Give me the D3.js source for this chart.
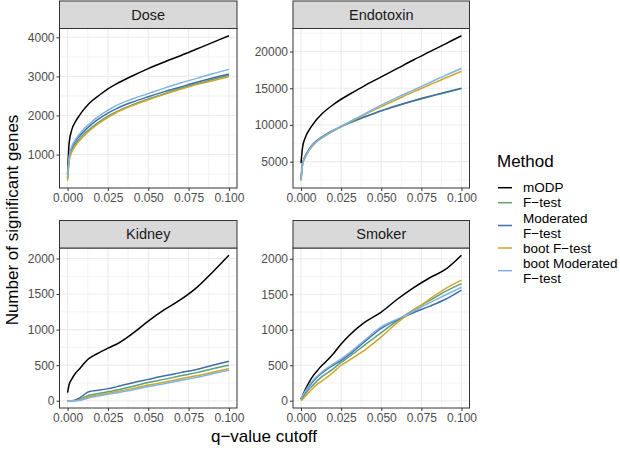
<!DOCTYPE html>
<html><head><meta charset="utf-8">
<script src="https://cdn.jsdelivr.net/npm/d3@7"></script>
<style>body{margin:0;background:#fff}svg{display:block;font-family:"Liberation Sans",Arial,Helvetica,sans-serif}</style>
</head><body><svg id="c" width="620" height="451"></svg>
<script>
const methods = ["mODP", "F\u2212test", "Moderated F\u2212test", "boot F\u2212test", "boot Moderated F\u2212test"];
const legendLines = [["mODP"], ["F\u2212test"], ["Moderated", "F\u2212test"], ["boot F\u2212test"], ["boot Moderated", "F\u2212test"]];
const colors = ["#000000", "#5F9F78", "#3F6FA6", "#D2A52F", "#7DB3E2"];
const panels = ["Dose", "Endotoxin", "Kidney", "Smoker"];
const qs = [0, 0.001, 0.0025, 0.005, 0.0075, 0.01, 0.0125, 0.015, 0.02, 0.025, 0.03, 0.04, 0.05, 0.06, 0.07, 0.08, 0.09, 0.1];
const xTicks = [0, 0.025, 0.05, 0.075, 0.1];
const yTicksDose = [1000, 2000, 3000, 4000];
const yTicksEndo = [5000, 10000, 15000, 20000];
const yTicksCount = [0, 500, 1000, 1500, 2000];

// Dose
const doseMODP = [480, 1300, 1620, 1850, 2010, 2150, 2270, 2370, 2530, 2680, 2800, 3010, 3200, 3370, 3530, 3700, 3870, 4040];
const doseF = [380, 880, 1100, 1280, 1410, 1520, 1610, 1700, 1850, 1980, 2090, 2270, 2420, 2560, 2690, 2810, 2920, 3030];
const doseMod = [400, 930, 1160, 1350, 1480, 1590, 1690, 1780, 1930, 2060, 2170, 2340, 2480, 2610, 2730, 2850, 2960, 3060];
const doseBootF = [330, 830, 1050, 1230, 1360, 1470, 1570, 1660, 1820, 1950, 2070, 2250, 2400, 2540, 2670, 2790, 2890, 2990];
const doseBootMod = [420, 950, 1190, 1390, 1530, 1650, 1750, 1840, 2000, 2130, 2250, 2420, 2560, 2700, 2830, 2950, 3070, 3180];
// Endotoxin
const endoMODP = [4800, 7000, 8200, 9300, 10100, 10800, 11400, 11900, 12750, 13500, 14150, 15400, 16550, 17700, 18850, 19950, 21050, 22150];
const endoF = [2550, 4750, 5650, 6650, 7350, 7850, 8250, 8600, 9200, 9750, 10250, 11100, 11900, 12600, 13250, 13850, 14400, 14950];
const endoMod = [2600, 4800, 5700, 6700, 7400, 7900, 8300, 8650, 9250, 9800, 10300, 11150, 11950, 12650, 13300, 13900, 14450, 15000];
const endoBootF = [2400, 4600, 5500, 6500, 7200, 7750, 8150, 8500, 9150, 9800, 10350, 11450, 12500, 13500, 14500, 15450, 16400, 17300];
const endoBootMod = [2500, 4700, 5600, 6600, 7300, 7800, 8200, 8550, 9200, 9800, 10400, 11550, 12700, 13750, 14750, 15750, 16750, 17700];
// Kidney
const kidMODP = [115, 230, 300, 390, 450, 520, 580, 620, 680, 740, 790, 940, 1120, 1280, 1420, 1590, 1810, 2045];
const kidF = [0, 0, 0, 5, 20, 45, 70, 85, 105, 125, 150, 200, 255, 300, 350, 395, 450, 500];
const kidMod = [0, 0, 0, 10, 40, 80, 120, 135, 150, 170, 195, 250, 300, 350, 395, 440, 500, 555];
const kidBootF = [0, 0, 0, 0, 10, 30, 50, 65, 85, 105, 125, 170, 220, 260, 310, 350, 400, 450];
const kidBootMod = [0, 0, 0, 0, 5, 20, 35, 50, 70, 90, 110, 150, 200, 240, 285, 330, 380, 430];
// Smoker
const smkMODP = [20, 70, 150, 260, 350, 420, 485, 540, 660, 800, 920, 1110, 1250, 1430, 1590, 1730, 1850, 2050];
const smkF = [10, 40, 90, 160, 220, 280, 330, 370, 450, 540, 620, 790, 960, 1130, 1280, 1410, 1540, 1650];
const smkMod = [20, 60, 120, 200, 270, 330, 380, 425, 500, 570, 650, 840, 1020, 1140, 1240, 1330, 1430, 1560];
const smkBootF = [0, 20, 60, 120, 180, 230, 270, 310, 400, 500, 570, 720, 900, 1100, 1270, 1430, 1580, 1700];
const smkBootMod = [30, 70, 130, 220, 290, 345, 395, 440, 515, 590, 670, 860, 1040, 1150, 1260, 1380, 1490, 1600];

const panelData = [
  {name: "Dose", series: [doseMODP, doseF, doseMod, doseBootF, doseBootMod], yTicks: yTicksDose},
  {name: "Endotoxin", series: [endoMODP, endoF, endoMod, endoBootF, endoBootMod], yTicks: yTicksEndo},
  {name: "Kidney", series: [kidMODP, kidF, kidMod, kidBootF, kidBootMod], yTicks: yTicksCount},
  {name: "Smoker", series: [smkMODP, smkF, smkMod, smkBootF, smkBootMod], yTicks: yTicksCount}
];

const svg = d3.select("#c");
const layout = [
  {x0: 59.5, x1: 237, y0: 28.5, y1: 188},
  {x0: 293, x1: 469.5, y0: 28.5, y1: 188},
  {x0: 59.5, x1: 237, y0: 248, y1: 408},
  {x0: 293, x1: 469.5, y0: 248, y1: 408}
];
const stripH = 27.5;
const gridCol = "#EBEBEB";
const axisTextCol = "#4D4D4D";
const frameCol = "#333333";

panelData.forEach((p, i) => {
  const L = layout[i];
  const all = p.series.flat();
  const mn = d3.min(all), mx = d3.max(all), ex = (mx - mn) * 0.05;
  const y = d3.scaleLinear().domain([mn - ex, mx + ex]).range([L.y1, L.y0]);
  const x = d3.scaleLinear().domain([-0.005, 0.105]).range([L.x0, L.x1]);
  const g = svg.append("g");
  g.append("rect").attr("x", L.x0).attr("y", L.y0).attr("width", L.x1 - L.x0).attr("height", L.y1 - L.y0).attr("fill", "#fff");
  const step = p.yTicks[1] - p.yTicks[0];
  const yMinor = d3.range(p.yTicks[0] - step / 2, mx + ex, step).filter(v => v > mn - ex && v < mx + ex);
  const xMinor = d3.range(-0.0125, 0.11, 0.025).filter(v => v > -0.005 && v < 0.105);
  g.selectAll(null).data(yMinor).join("line").attr("x1", L.x0).attr("x2", L.x1).attr("y1", d => y(d)).attr("y2", d => y(d)).attr("stroke", gridCol).attr("stroke-width", 0.6);
  g.selectAll(null).data(xMinor).join("line").attr("y1", L.y0).attr("y2", L.y1).attr("x1", d => x(d)).attr("x2", d => x(d)).attr("stroke", gridCol).attr("stroke-width", 0.6);
  g.selectAll(null).data(p.yTicks).join("line").attr("x1", L.x0).attr("x2", L.x1).attr("y1", d => y(d)).attr("y2", d => y(d)).attr("stroke", gridCol).attr("stroke-width", 1.1);
  g.selectAll(null).data(xTicks).join("line").attr("y1", L.y0).attr("y2", L.y1).attr("x1", d => x(d)).attr("x2", d => x(d)).attr("stroke", gridCol).attr("stroke-width", 1.1);
  const line = d3.line().x((d, j) => x(qs[j])).y(d => y(d)).curve(d3.curveMonotoneX);
  p.series.forEach((s, k) => {
    g.append("path").datum(s).attr("d", line).attr("fill", "none").attr("stroke", colors[k]).attr("stroke-width", 1.5).attr("stroke-linejoin", "round");
  });
  g.append("rect").attr("x", L.x0).attr("y", L.y0).attr("width", L.x1 - L.x0).attr("height", L.y1 - L.y0).attr("fill", "none").attr("stroke", frameCol).attr("stroke-width", 1);
  g.append("rect").attr("x", L.x0).attr("y", L.y0 - stripH).attr("width", L.x1 - L.x0).attr("height", stripH).attr("fill", "#D9D9D9").attr("stroke", frameCol).attr("stroke-width", 1);
  g.append("text").attr("x", (L.x0 + L.x1) / 2).attr("y", L.y0 - stripH / 2).attr("dy", "0.35em").attr("text-anchor", "middle").attr("font-size", 14.5).attr("fill", "#1A1A1A").text(p.name);
  const xa = d3.axisBottom(x).tickValues(xTicks).tickFormat(d3.format(".3f")).tickSize(3).tickPadding(2);
  const ya = d3.axisLeft(y).tickValues(p.yTicks).tickFormat(d3.format("d")).tickSize(3).tickPadding(2);
  const gx = g.append("g").attr("transform", `translate(0,${L.y1})`).call(xa);
  const gy = g.append("g").attr("transform", `translate(${L.x0},0)`).call(ya);
  [gx, gy].forEach(a => {
    a.select(".domain").remove();
    a.selectAll("line").attr("stroke", frameCol);
    a.selectAll("text").attr("fill", axisTextCol).attr("font-size", 12).attr("font-family", null);
  });
});

svg.append("text").attr("x", 264).attr("y", 442).attr("text-anchor", "middle").attr("font-size", 17).attr("fill", "#000").text("q\u2212value cutoff");
svg.append("text").attr("transform", "translate(18,220) rotate(-90)").attr("text-anchor", "middle").attr("font-size", 17).attr("fill", "#000").text("Number of significant genes");

const lg = svg.append("g");
lg.append("text").attr("x", 497).attr("y", 167).attr("font-size", 17).attr("fill", "#000").text("Method");
const keyY = [187.7, 202.7, 225.5, 248, 270.7];
methods.forEach((m, i) => {
  lg.append("line").attr("x1", 498).attr("x2", 512).attr("y1", keyY[i]).attr("y2", keyY[i]).attr("stroke", colors[i]).attr("stroke-width", 1.5);
  const lines = legendLines[i];
  const t = lg.append("text").attr("font-size", 13.5).attr("fill", "#000");
  lines.forEach((l, j) => {
    t.append("tspan").attr("x", 523).attr("y", keyY[i] + (j - (lines.length - 1) / 2) * 15).attr("dy", "0.35em").text(l);
  });
});
</script></body></html>
